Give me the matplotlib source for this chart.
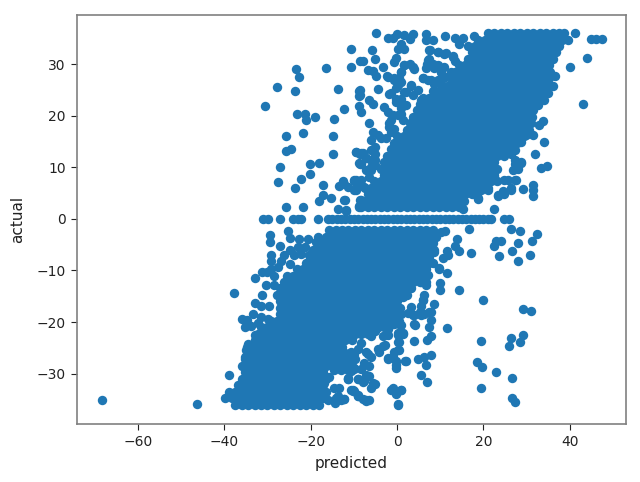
import matplotlib
matplotlib.use('Agg')
import matplotlib.pyplot as plt

# rows, dense part of the cloud (actual > 0)
upper_actual = [36, 34.75, 33.5, 32.25, 31, 29.75, 28.5, 27.25, 26, 24.75, 23.5, 22.25, 21, 19.75,
                18.5, 17.25, 16, 14.75, 13.5, 12.25, 11, 9.75, 8.5, 7.25, 6, 4.75, 3.5, 2.25]
upper_predicted = [
    [21, 22.5, 24, 25.5, 27, 28.5, 30, 31.5, 33, 34.5, 36, 37.5, 38.6],
    [18.75, 20.25, 21.75, 23.25, 24.75, 26.25, 27.75, 29.25, 30.75, 32.25, 33.75, 35.25, 36.75, 38.25, 39.5],
    [16.5, 18, 19.5, 21, 22.5, 24, 25.5, 27, 28.5, 30, 31.5, 33, 34.5, 36, 37.4],
    [17.25, 18.75, 20.25, 21.75, 23.25, 24.75, 26.25, 27.75, 29.25, 30.75, 32.25, 33.75, 35.25, 36.7],
    [16.5, 18, 19.5, 21, 22.5, 24, 25.5, 27, 28.5, 30, 31.5, 33, 34.5, 36],
    [14.25, 15.75, 17.25, 18.75, 20.25, 21.75, 23.25, 24.75, 26.25, 27.75, 29.25, 30.75, 32.25, 33.75, 35.25],
    [13.5, 15, 16.5, 18, 19.5, 21, 22.5, 24, 25.5, 27, 28.5, 30, 31.5, 33, 34.5, 35.5],
    [12.75, 14.25, 15.75, 17.25, 18.75, 20.25, 21.75, 23.25, 24.75, 26.25, 27.75, 29.25, 30.75, 32.25, 33.75, 35.25],
    [10.5, 12, 13.5, 15, 16.5, 18, 19.5, 21, 22.5, 24, 25.5, 27, 28.5, 30, 31.5, 33, 34.5, 35.1],
    [8.25, 9.75, 11.25, 12.75, 14.25, 15.75, 17.25, 18.75, 20.25, 21.75, 23.25, 24.75, 26.25, 27.75, 29.25, 30.75, 32.25, 33.75],
    [6, 7.5, 9, 10.5, 12, 13.5, 15, 16.5, 18, 19.5, 21, 22.5, 24, 25.5, 27, 28.5, 30, 31.5, 33],
    [5.25, 6.75, 8.25, 9.75, 11.25, 12.75, 14.25, 15.75, 17.25, 18.75, 20.25, 21.75, 23.25, 24.75, 26.25, 27.75, 29.25, 30.75, 31.75],
    [4.5, 6, 7.5, 9, 10.5, 12, 13.5, 15, 16.5, 18, 19.5, 21, 22.5, 24, 25.5, 27, 28.5, 30, 31.5],
    [3.75, 5.25, 6.75, 8.25, 9.75, 11.25, 12.75, 14.25, 15.75, 17.25, 18.75, 20.25, 21.75, 23.25, 24.75, 26.25, 27.75, 29.25, 30.75, 31.3],
    [3, 4.5, 6, 7.5, 9, 10.5, 12, 13.5, 15, 16.5, 18, 19.5, 21, 22.5, 24, 25.5, 27, 28.5, 30, 30.9],
    [2.25, 3.75, 5.25, 6.75, 8.25, 9.75, 11.25, 12.75, 14.25, 15.75, 17.25, 18.75, 20.25, 21.75, 23.25, 24.75, 26.25, 27.75, 29.25, 30.5],
    [0, 1.5, 3, 4.5, 6, 7.5, 9, 10.5, 12, 13.5, 15, 16.5, 18, 19.5, 21, 22.5, 24, 25.5, 27, 28.5, 29.3],
    [-0.75, 0.75, 2.25, 3.75, 5.25, 6.75, 8.25, 9.75, 11.25, 12.75, 14.25, 15.75, 17.25, 18.75, 20.25, 21.75, 23.25, 24.75, 26.25, 27.75],
    [-1.5, 0, 1.5, 3, 4.5, 6, 7.5, 9, 10.5, 12, 13.5, 15, 16.5, 18, 19.5, 21, 22.5, 24, 25.5, 26.2],
    [-2.25, -0.75, 0.75, 2.25, 3.75, 5.25, 6.75, 8.25, 9.75, 11.25, 12.75, 14.25, 15.75, 17.25, 18.75, 20.25, 21.75, 23.25, 24.7],
    [-3, -1.5, 0, 1.5, 3, 4.5, 6, 7.5, 9, 10.5, 12, 13.5, 15, 16.5, 18, 19.5, 21, 22.4],
    [-3.75, -2.25, -0.75, 0.75, 2.25, 3.75, 5.25, 6.75, 8.25, 9.75, 11.25, 12.75, 14.25, 15.75, 17.25, 18.75, 20.25, 21.75, 23.1],
    [-3, -1.5, 0, 1.5, 3, 4.5, 6, 7.5, 9, 10.5, 12, 13.5, 15, 16.5, 18, 19.5, 21, 22.5],
    [-5.25, -3.75, -2.25, -0.75, 0.75, 2.25, 3.75, 5.25, 6.75, 8.25, 9.75, 11.25, 12.75, 14.25, 15.75, 17.25, 18.75, 20.25, 21.75, 23.1],
    [-7.5, -6, -4.5, -3, -1.5, 0, 1.5, 3, 4.5, 6, 7.5, 9, 10.5, 12, 13.5, 15, 16.5, 18, 19.5],
    [-6.75, -5.25, -3.75, -2.25, -0.75, 0.75, 2.25, 3.75, 5.25, 6.75, 8.25, 9.75, 11.25, 12.75, 14.25, 15.75, 17.25, 18.5],
    [-7.5, -6, -4.5, -3, -1.5, 0, 1.5, 3, 4.5, 6, 7.5, 9, 10.5, 12, 13.5, 15, 15.4],
    [-8.25, -6.75, -5.25, -3.75, -2.25, -0.75, 0.75, 2.25, 3.75, 5.25, 6.75, 8.25, 9.75, 11.25, 12.75, 14.25],
]

# same for actual < 0
lower_actual = [-36, -34.75, -33.5, -32.25, -31, -29.75, -28.5, -27.25, -26, -24.75, -23.5, -22.25, -21, -19.75,
                -18.5, -17.25, -16, -14.75, -13.5, -12.25, -11, -9.75, -8.5, -7.25, -6, -4.75, -3.5, -2.25]
lower_predicted = [
    [-37.5, -36, -34.5, -33, -31.5, -30, -28.5, -27, -25.5, -24, -22.5, -21, -19.5, -18],
    [-39.75, -38.25, -36.75, -35.25, -33.75, -32.25, -30.75, -29.25, -27.75, -26.25, -24.75, -23.25, -21.75, -20.25, -18.75, -17.25],
    [-39, -37.5, -36, -34.5, -33, -31.5, -30, -28.5, -27, -25.5, -24, -22.5, -21, -19.5, -18, -16.5],
    [-36.75, -35.25, -33.75, -32.25, -30.75, -29.25, -27.75, -26.25, -24.75, -23.25, -21.75, -20.25, -18.75, -17.25],
    [-36, -34.5, -33, -31.5, -30, -28.5, -27, -25.5, -24, -22.5, -21, -19.5, -18, -16.5],
    [-35.25, -33.75, -32.25, -30.75, -29.25, -27.75, -26.25, -24.75, -23.25, -21.75, -20.25, -18.75, -17.25],
    [-36, -34.5, -33, -31.5, -30, -28.5, -27, -25.5, -24, -22.5, -21, -19.5, -18, -16.5, -15, -13.5, -12, -10.5],
    [-35.25, -33.75, -32.25, -30.75, -29.25, -27.75, -26.25, -24.75, -23.25, -21.75, -20.25, -18.75, -17.25, -15.75, -14.25, -12.75, -11.25, -9.75],
    [-34.5, -33, -31.5, -30, -28.5, -27, -25.5, -24, -22.5, -21, -19.5, -18, -16.5, -15, -13.5, -12],
    [-34.8, -33.75, -32.25, -30.75, -29.25, -27.75, -26.25, -24.75, -23.25, -21.75, -20.25, -18.75, -17.25, -15.75, -14.25, -12.75],
    [-33, -31.5, -30, -28.5, -27, -25.5, -24, -22.5, -21, -19.5, -18, -16.5, -15, -13.5, -12, -10.5],
    [-32.25, -30.75, -29.25, -27.75, -26.25, -24.75, -23.25, -21.75, -20.25, -18.75, -17.25, -15.75, -14.25, -12.75, -11.25, -9.75, -8.25, -6.75],
    [-31.5, -30, -28.5, -27, -25.5, -24, -22.5, -21, -19.5, -18, -16.5, -15, -13.5, -12, -10.5, -9, -7.5, -6, -4.5, -3],
    [-29.25, -27.75, -26.25, -24.75, -23.25, -21.75, -20.25, -18.75, -17.25, -15.75, -14.25, -12.75, -11.25, -9.75, -8.25, -6.75, -5.25, -3.75, -2.25, -0.75, 0.4],
    [-27, -25.5, -24, -22.5, -21, -19.5, -18, -16.5, -15, -13.5, -12, -10.5, -9, -7.5, -6, -4.5, -3, -1.5, 0, 0.8],
    [-27, -26.25, -24.75, -23.25, -21.75, -20.25, -18.75, -17.25, -15.75, -14.25, -12.75, -11.25, -9.75, -8.25, -6.75, -5.25, -3.75, -2.25, -0.75, 0.75],
    [-27, -25.5, -24, -22.5, -21, -19.5, -18, -16.5, -15, -13.5, -12, -10.5, -9, -7.5, -6, -4.5, -3, -1.5, 0],
    [-27.75, -26.25, -24.75, -23.25, -21.75, -20.25, -18.75, -17.25, -15.75, -14.25, -12.75, -11.25, -9.75, -8.25, -6.75, -5.25, -3.75, -2.25, -0.75, 0.75, 2.25],
    [-27, -25.5, -24, -22.5, -21, -19.5, -18, -16.5, -15, -13.5, -12, -10.5, -9, -7.5, -6, -4.5, -3, -1.5, 0, 1.5, 3],
    [-26.25, -24.75, -23.25, -21.75, -20.25, -18.75, -17.25, -15.75, -14.25, -12.75, -11.25, -9.75, -8.25, -6.75, -5.25, -3.75, -2.25, -0.75, 0.75, 2.25, 3.75, 5.25, 6.75],
    [-25.5, -24, -22.5, -21, -19.5, -18, -16.5, -15, -13.5, -12, -10.5, -9, -7.5, -6, -4.5, -3, -1.5, 0, 1.5, 3, 4.5, 6],
    [-23.25, -21.75, -20.25, -18.75, -17.25, -15.75, -14.25, -12.75, -11.25, -9.75, -8.25, -6.75, -5.25, -3.75, -2.25, -0.75, 0.75, 2.25, 3.75, 5.25, 6.75],
    [-21, -19.5, -18, -16.5, -15, -13.5, -12, -10.5, -9, -7.5, -6, -4.5, -3, -1.5, 0, 1.5, 3, 4.5, 6, 7.5],
    [-20.25, -18.75, -17.25, -15.75, -14.25, -12.75, -11.25, -9.75, -8.25, -6.75, -5.25, -3.75, -2.25, -0.75, 0.75, 2.25, 3.75, 5.25, 6.75, 7.5],
    [-19.5, -18, -16.5, -15, -13.5, -12, -10.5, -9, -7.5, -6, -4.5, -3, -1.5, 0, 1.5, 3, 4.5, 6, 7.5],
    [-17.25, -15.75, -14.25, -12.75, -11.25, -9.75, -8.25, -6.75, -5.25, -3.75, -2.25, -0.75, 0.75, 2.25, 3.75, 5.25, 6.75, 8.25],
    [-16.5, -15, -13.5, -12, -10.5, -9, -7.5, -6, -4.5, -3, -1.5, 0, 1.5, 3, 4.5, 6, 7.5, 9],
    [-15.75, -14.25, -12.75, -11.25, -9.75, -8.25, -6.75, -5.25, -3.75, -2.25, -0.75, 0.75, 2.25, 3.75, 5.25, 6.75, 8.25],
]

# the band of points at actual = 0
zero_predicted = [-31.1, -29.9, -27.2, -24.2, -23, -22.2, -18.3, -16, -15, -14, -13, -12, -11, -10, -9, -8, -7, -6, -5, -4,
                  -3, -2, -1, 0, 1, 2, 3, 4, 5, 6, 7, 8, 9, 10, 11, 12, 13, 14, 15, 16, 17, 18, 19, 20, 21, 21.8, 24.8, 26]

# scattered points around the two clouds
stray_predicted = [
    -10.7, -8.5, -23.5, -22.6, -16.4, -10.6, -27.8, -23.7, -13.7, -8.7, -8.7, -30.6, -23.1, -21.3, -21.1, -19.1, -14.7, -12.4,
    -8.7, -8.3, -25.7, -21.8, -14.9, -25.7, -24.5, -14.9, -9.6, -8.5, -8.5, -27.2, -20.1, -18.1, -20.1, -22.2, -27.5, -23.7,
    -17.1, -12.6, -13.4, -11.4, -9.9, -9.9, -9.1, -17.2, -18, -15.2, -12.1, -25.7, -21.8, -13.7, -11.8, -8.7, -8.5,
    -4.9, -2.2, -1, 0, 1.7, 3.6, 3, 6.6, 6.6, 8.4, 11.2, 13.3, 15.2, 17.9, 14.4, 0.9, 0.2, 1.5, -5.9, -5.2, -7.8, -3.2, -0.2, -0.8,
    -6.8, -5.6, -4.9, -2.4, 7.7, 9.4, 10.9, 12.9, 7.5, 6.9, 8.3, 9.4, 10.2, 10.9, 1.7, 2.9, 3.9, 0.9, 0.5, -0.6, 5.9, 7.1, 8.6,
    3.2, 0.2, 1.7, 3.6, -8.6, -8.6, -4.5, -1.8, -0.2, 0.9, -6.6, -5.5, -3, -2.2, 0.9, 0.2, 2.1, -1.4, -1.8, -1.4, 1.3, -6.6, -5.6,
    -3.7, -2.5, -5.2, -5.2, -9.5, -8, -7.2, -8.3, -6, -5.2, -6, -9.9, -9.5, -12.3, -12.2, -11.8,
    41.2, 44.9, 46.1, 47.4, 44, 40.1, 36.6, 36.2, 35, 34.1, 32.6, 43, 33.7, 32.9, 31.4, 34.1, 32, 33.3, 34.7, 28.7, 27.9, 26.4, 27.2,
    31.4, 31.4, 31.4, 29.1, 26.4, 24.8, 23.3, 27.2, 24.8, 22.5, 18.7, 21, 15.2, 22.5,
    11, 16.6, 26.4, 28.4, 32.4, 31.2, 22.9, 24.1, 22.5, 28.1, 26.6, 23.5, 30.7, 27.9, 17.1, 13.8, 13.3, 14.3, 11.6, 11.9, 10.6, 8.6,
    9.8, 11.5, 9.9, 9.9, 14.3, 19.9, 29.1, 30.9, 8.5, 5.9, 5.6, 5.2, 7.5, 6.3, 3.6, 7.9, 7.5, 4.2, 11.5, 1.3, 0.2, 0.2, 0.5, -0.6,
    4, 7.9, 6.9, 19.4, 26.4, 26, 29.2, 28.4, 7.9, 6.3, 4.8, 2.1, -0.2, -2.2, 6.6, 18.5, 19.7, 22.9, -0.2, 5.6, 6.9, 26.6, 19.4,
    26.6, 27.4, -1.4, 0.8, -0.2, 0.2, -7.2, -6.4, -8, -12.2, -10.6, -9.1, -9.9, -5.2, -6.4, -6, -7.6, -9.1, -11.4,
    -8.3, -9.9, -10.6, -6.4, -6, -7.2, -9.1, -4.5, -3.3, -10.6, -12.6, -2.2, -2.2, -0.6, -3.3, -5.2,
    -68.3, -46.3, -38.8, -37.8, -31.3, -33, -31.3, -29.2, -30, -28.5, -30.3, -28.4, -29.5, -29.5, -25.2, -24.9, -27,
    -29.3, -29.2, -27.6, -26.9, -26.1, -24.9, -23, -22.6, -20.7, -18.4, -18.8, -21.4, -24.9, -23.8, -20.3, -22.2,
    -32.9, -31.5, -29.6, -33.3, -31.5, -29.9, -35.9, -34.8, -35.3, -33.8, -32.1, -33, -34.6, -35, -35.3,
    -13.7, -12.2, -14.4, -14.5, -13.4, -11.4, -9.1, -10.3, -9.1,
]
stray_actual = [
    32.9, 30.5, 29, 27.5, 29.3, 29.5, 25.6, 24.8, 25.1, 24.8, 23.8, 21.9, 20.4, 20.4, 19.2, 19.8, 19.4, 21.2,
    21.8, 20.7, 16.1, 16.6, 16.1, 13.2, 13.6, 12.5, 13, 12.5, 10.7, 10, 10.6, 10.8, 8.6, 7.8, 7.1, 6,
    6.5, 7.3, 6.3, 6.2, 7.3, 5.5, 6.8, 4.6, 3.5, 4.1, 3.7, 2.2, 2.2, 2, 1.8, 2.4, 3.6,
    36, 35.1, 35.1, 35.8, 35.6, 35.8, 34.8, 35.8, 34.7, 34.7, 35.5, 35.1, 35.1, 35.5, 33.9, 33.9, 33, 33, 32.7, 31, 30.6, 29.5, 31.1, 30.4,
    28.8, 28.6, 27.7, 27.7, 32.7, 32.3, 31.9, 31.5, 30.9, 30, 30.1, 29.9, 28.5, 29.5, 29.8, 30.1, 29, 28.5, 27.2, 27.2, 27.2, 26.9, 26.2,
    25.8, 25.9, 24.6, 24, 24.9, 24, 25.1, 24.2, 23.3, 23.3, 23, 22.2, 21.7, 20.7, 21.4, 20.1, 22, 19.1, 17.8, 16.9, 19.1, 18.5, 16.8,
    15.6, 15.6, 13.9, 12.6, 13, 12.7, 11.7, 10.7, 11.4, 10.4, 9.4, 7.5, 5.5, 6.8, 3.6, 1.6,
    36, 34.8, 34.8, 34.8, 31.2, 29.5, 27.7, 25.8, 24.3, 23, 22, 22.2, 18.9, 18.2, 16.2, 14.8, 12.5, 9.9, 10.2, 11, 9.7, 12.6, 10.7,
    6.5, 5.5, 4.4, 5.8, 5.9, 4.9, 4.4, 7.5, 7.5, 8.1, 3.9, 5.5, 2, 2,
    -2.4, -2, -2, -2.3, -2.9, -4.2, -4.2, -4.2, -5.3, -4.6, -6.3, -7.2, -7, -8.1, -6.6, -4, -5.3, -6.3, -6.3, -7.1, -7.6, -6.4,
    -9.7, -10.5, -12.4, -13.7, -13.7, -15.8, -17.4, -17.8, -16.5, -15.8, -16.8, -18, -18.1, -18.4, -18.7, -19.7, -21, -20.5, -21.2, -22.3, -22.6, -23.9, -25.5, -25.9,
    -23.6, -22.8, -23.4, -23.6, -23.1, -24.6, -22.6, -23.9, -26.4, -26.8, -27.1, -27.6, -27.5, -27.1, -28.4, -27.8, -28.7, -29.6, -28.9, -30.2, -31.7, -30.8, -32.8,
    -34.7, -35.4, -33.2, -33.2, -34, -36, -35.3, -35.1, -34.9, -35, -33.2, -34.3, -33.3, -32, -30.4, -32.7, -31.4, -31, -31,
    -29.1, -29.1, -29.4, -28.5, -26.8, -25.9, -25.2, -25.2, -24.6, -25.9, -26.8, -22.6, -21.3, -20.4, -20.7, -21.7,
    -35.1, -35.8, -30.2, -14.3, -14.7, -11.4, -10.3, -9.7, -10.3, -11.1, -12.8, -12.9, -3.1, -4.5, -2.4, -3.7, -5.3,
    -7.1, -8.1, -9.4, -8.1, -7.1, -6.1, -5.5, -3.9, -3.9, -3.5, -4.5, -5.5, -8.7, -7.1, -7.1, -6.8,
    -16.3, -16.8, -16.8, -18.4, -19.1, -19.4, -19.5, -19.7, -21, -20.7, -20.2, -22.6, -24.2, -25.5, -26.8,
    -34.3, -35, -35.6, -32.7, -32.7, -31, -31, -33.3, -34.3,
]

# points along the cloud edges
edge_predicted = [
    -2.2, -4.5, -7.6, -9.9, -6, -8.3, -9.9, -6.8, -7.6, -9.9, -13, -11.4, -7.2, -5.6, -7.9, -10.3, -9.1, -7.2, -13, -14.1, -16, -16.9, -16.9,
    -15.7, -13, -14.5, -11.4, -4.1, -2.9, -3.3, 0.2, 1.3, 0.5, 0.2, -1, -0.2, -2.2, 1.9, -1, 0.9, -0.2, 0.2, -3.3, -1, 0.5,
    29.9, 28.7, 27.2, 28.7, 27.2, 26.8, 27.5, 25.6, 26.4, 24.5, 23.3, 21, 18.7, 19.4,
    -8.3, -7.2, -8.7, -7.2, -6, -4.5, -6, -5.2, -6, -6.4, -8.3, -9.5, -7.6, -8.3, -8.7,
    -1.4, -0.2, -0.6, 0.9, 1.7, 3.6, -2.2, 0.9, 2.1, -0.2, -1, -1.8, -0.6, 0.9, 5.9, 3.2, 4.8, 5.6,
    7.5, 9.4, 11.3, 12.9, 7.1, 6.7, 8.6, 10.2, 11, 9.4, 7.9, 12.5, 13.3,
    10.2, 8.6, 7.5, 8.3, 9.8, 7.1, 6.7, 6.3, 6, 3.2, 7.9, 5.6, 4, 2.5, 2.5, 5.6, 1.3, 3.2, 0.9, -0.6, 4,
]
edge_actual = [
    -20.9, -20.9, -21.6, -22.2, -22.8, -24.1, -26.1, -26.1, -28, -29, -28, -29.3, -30.3, -31.9, -31.6, -33.2, -34.1, -35.1, -35.1, -34.8, -35.1, -33.8, -31.8,
    -30.6, -29.3, -29.3, -30.9, -25.8, -24.5, -22.8, -22.2, -22.2, -23.8, -25.4, -26.7, -28.3, -27, -27.5, -32.8, -33.2, -33.8, -35.8, -20.3, -20.3, -20.3,
    16.2, 14.9, 13.3, 10.8, 11.4, 9.5, 7.5, 7.5, 5.6, 5.3, 4.6, 5.9, 4, 5.6,
    12.7, 11.7, 10.8, 9.5, 15.3, 16.2, 13.3, 11.4, 10.1, 8.2, 7.5, 7.5, 6.2, 3.6, 2.3,
    24.3, 25.3, 26.9, 28.5, 29.8, 29.5, 27.5, 26.6, 24.6, 22.7, 20.1, 18.5, 17.5, 20.4, 27.2, 25.9, 25, 23,
    32.7, 32.4, 32.1, 31.4, 30.8, 29.2, 29.2, 28.5, 27.5, 26.9, 26.9, 28.5, 30.5,
    -2.5, -6, -7.7, -8.6, -9.6, -10.9, -12.8, -14.8, -15.7, -13.5, -18, -18.6, -18.6, -18.3, -13.5, -12.2, -15.1, -17, -20.6, -19.9, -20.3,
]

# flatten the rows
predicted = list(zero_predicted) + list(stray_predicted) + list(edge_predicted)
actual = [0] * len(zero_predicted) + list(stray_actual) + list(edge_actual)
for y, row in zip(upper_actual + lower_actual, upper_predicted + lower_predicted):
    predicted += row
    actual += [y] * len(row)

fig = plt.figure(figsize=(6.4, 4.82), dpi=100)
ax = fig.add_axes([77 / 640, 1 - 423.7 / 482, 549 / 640, 408.7 / 482])
ax.scatter(predicted, actual, s=46, color='#1f77b4', linewidths=0)
ax.set_xlim(-74.1, 53)
ax.set_ylim(-39.7, 39.5)
ax.set_xticks([-60, -40, -20, 0, 20, 40])
ax.set_yticks([-30, -20, -10, 0, 10, 20, 30])
ax.tick_params(labelsize=10, colors='#222222', width=0.8, length=4, pad=4)
for s in ax.spines.values():
    s.set_linewidth(1.2)
    s.set_color('#808080')
ax.set_xlabel('predicted', fontsize=11, color='#222222', labelpad=5)
ax.set_ylabel('actual', fontsize=11, color='#222222', labelpad=8)
fig.savefig('out.png', dpi=100)
